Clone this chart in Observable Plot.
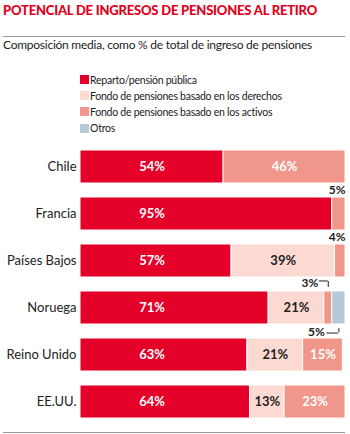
<!DOCTYPE html>
<html><head><meta charset="utf-8">
<script src="https://cdn.jsdelivr.net/npm/d3@7"></script>
<script src="https://cdn.jsdelivr.net/npm/@observablehq/plot@0.6"></script>
<style>
body{margin:0;background:#fff;font-family:Lato,"Noto Sans",sans-serif;color:#222;}
#wrap{position:relative;width:350px;height:434px;overflow:hidden;}
.title{position:absolute;left:3px;top:3.5px;font-size:13px;line-height:1;font-weight:900;color:#e3001b;white-space:nowrap;letter-spacing:-0.2px;}
.rule{position:absolute;left:3px;width:342px;height:1px;background:#9a9a9a;}
.sub{position:absolute;left:3px;top:39px;font-size:12px;line-height:1;white-space:nowrap;color:#222;letter-spacing:-0.25px;}
.leg{position:absolute;left:80px;font-size:10.5px;line-height:1;white-space:nowrap;display:flex;align-items:center;color:#222;letter-spacing:-0.25px;}
.leg span.sw{display:inline-block;width:9px;height:9px;margin-right:1px;}
#chart{position:absolute;left:0;top:140px;}
</style></head>
<body><div id="wrap">
<div class="title">POTENCIAL DE INGRESOS DE PENSIONES AL RETIRO</div>
<div class="rule" style="top:36px"></div>
<div class="sub">Composición media, como % de total de ingreso de pensiones</div>
<div id="legend"></div>
<div id="chart"></div>
<div class="rule" style="top:432px"></div>
</div>
<script>
const countries = ["Chile","Francia","Países Bajos","Noruega","Reino Unido","EE.UU."];
const series = ["Reparto/pensión pública","Fondo de pensiones basado en los derechos","Fondo de pensiones basado en los activos","Otros"];
const colors = ["#e5002a","#fcdad2","#f0968a","#b5c9d9"];
const reparto  = [54,95,57,71,63,64];
const derechos = [0,0,39,21,21,13];
const activos  = [46,5,4,3,15,23];
const otros    = [0,0,0,5,0,0];
const seriesValues = [reparto, derechos, activos, otros];

// legend
const legend = document.getElementById("legend");
const legTops = [74.5,90.5,106.5,123];
series.forEach((s,i)=>{
  const d = document.createElement("div");
  d.className="leg"; d.style.top = legTops[i]+"px";
  d.innerHTML = `<span class="sw" style="background:${colors[i]}"></span>${s}`;
  legend.appendChild(d);
});

// rows with stack positions
const rows = [];
countries.forEach((c,ci)=>{
  let acc = 0;
  seriesValues.forEach((vals,si)=>{
    const v = vals[ci];
    if (v > 0) rows.push({country:c, series:series[si], value:v, start:acc, end:acc+v, mid:acc+v/2, si});
    acc += v;
  });
});

// public-pension labels share one column, centred on the shortest red segment
const redLabelX = d3.min(reparto)/2;
rows.forEach(d=>{ d.labelX = d.si===0 ? redLabelX : d.mid; });

const H = 291, mTop = 7, mBottom = 10, pad = 0.29;
const bw = (H - mTop - mBottom)/(countries.length - pad)*(1-pad);
const half = bw/2;

const inside = rows.filter(d=>d.value>=10);
const small = rows.filter(d=>d.value<10);
const aboveEnd = small.filter(d=>d.country!=="Noruega");
const norAbove = small.filter(d=>d.country==="Noruega" && d.si===2);
const norBelow = small.filter(d=>d.country==="Noruega" && d.si===3);

const chart = Plot.plot({
  width:350, height:H,
  marginLeft:80, marginRight:5, marginTop:mTop, marginBottom:mBottom,
  x:{domain:[0,100], axis:null},
  y:{domain:countries, paddingInner:pad, paddingOuter:0, axis:null},
  color:{domain:series, range:colors},
  style:{fontFamily:"Lato, 'Noto Sans', sans-serif", color:"#222"},
  marks:[
    Plot.barX(rows,{x1:"start", x2:"end", y:"country", fill:"series", stroke:"white", strokeWidth:1}),
    Plot.axisY({tickSize:0, tickPadding:4, fontSize:13, fill:"#222", label:null}),
    Plot.text(inside,{x:"labelX", y:"country", text:d=>d.value+"%", fontSize:13, fontWeight:"bold",
      fill:d=>(d.si===0||d.si===2)?"#ffffff":"#222222"}),
    Plot.text(aboveEnd,{x:"end", y:"country", text:d=>d.value+"%", fontSize:12, fontWeight:"bold", textAnchor:"end", dy:-(half+7), fill:"#222"}),
    Plot.text(norAbove,{x:"mid", y:"country", text:d=>d.value+"%", fontSize:12, fontWeight:"bold", textAnchor:"end", dx:-10, dy:-(half+8), fill:"#222"}),
    Plot.ruleY(norAbove,{x1:"mid", x2:"mid", y:"country", insetLeft:-9, dy:-(half+10), stroke:"#222", strokeWidth:1}),
    Plot.tickX(norAbove,{x:"mid", y:"country", insetBottom:bw-7, dy:-10, stroke:"#222", strokeWidth:1}),
    Plot.text(norBelow,{x:"mid", y:"country", text:d=>d.value+"%", fontSize:12, fontWeight:"bold", textAnchor:"end", dx:-14, dy:(half+7), fill:"#222"}),
    Plot.ruleY(norBelow,{x1:"mid", x2:"mid", y:"country", insetLeft:-12, dy:(half+8), stroke:"#222", strokeWidth:1}),
    Plot.tickX(norBelow,{x:"mid", y:"country", insetTop:bw-5, dy:8, stroke:"#222", strokeWidth:1})
  ]
});
document.getElementById("chart").appendChild(chart);
</script>
</body></html>
